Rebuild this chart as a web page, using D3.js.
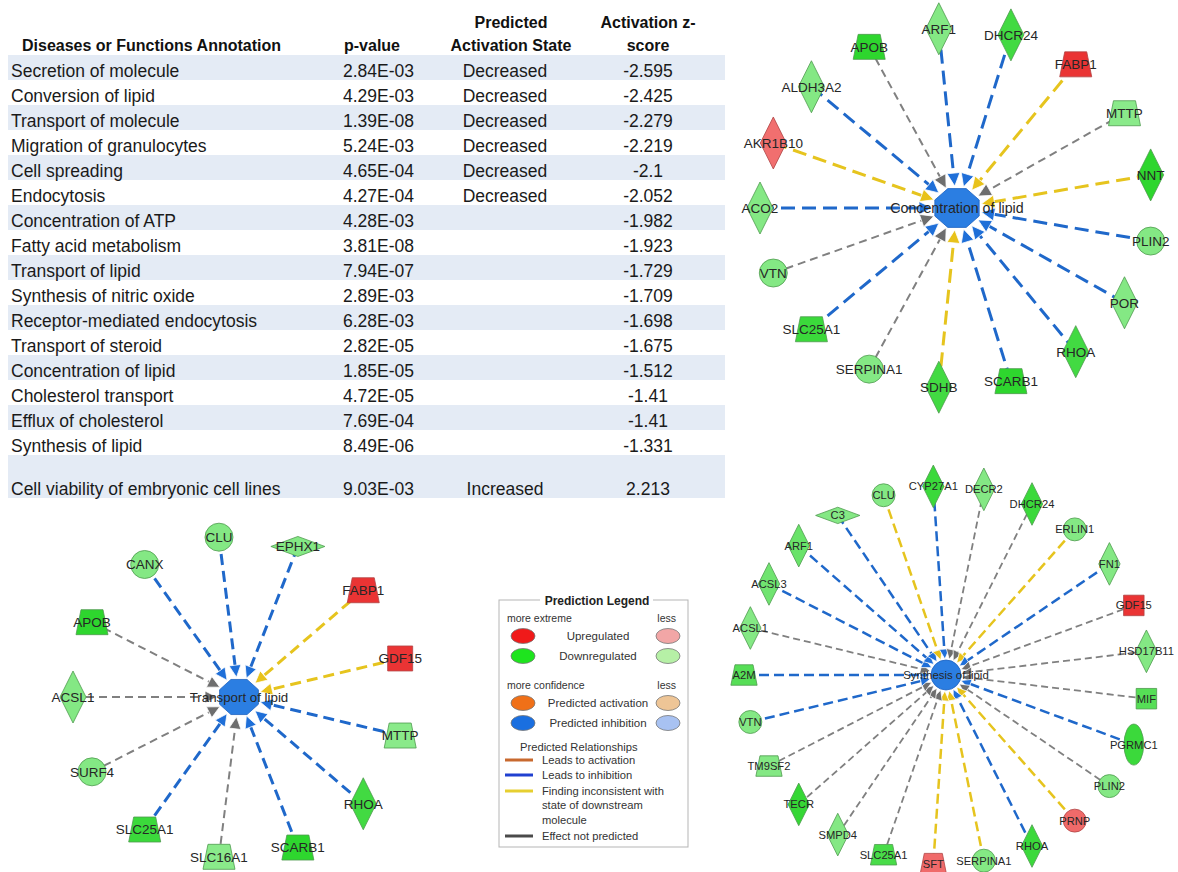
<!DOCTYPE html>
<html>
<head>
<meta charset="utf-8">
<script src="https://cdn.jsdelivr.net/npm/d3@7"></script>
<style>
  html, body { margin: 0; padding: 0; background: #fff; }
  svg { display: block; }
</style>
</head>
<body>
<svg id="fig" width="1178" height="872"></svg>
<script>
// ---------- Disease / function annotation table ----------
const annotations = [
  "Secretion of molecule", "Conversion of lipid", "Transport of molecule",
  "Migration of granulocytes", "Cell spreading", "Endocytosis",
  "Concentration of ATP", "Fatty acid metabolism", "Transport of lipid",
  "Synthesis of nitric oxide", "Receptor-mediated endocytosis", "Transport of steroid",
  "Concentration of lipid", "Cholesterol transport", "Efflux of cholesterol",
  "Synthesis of lipid", "Cell viability of embryonic cell lines"
];
const pValues = [
  "2.84E-03", "4.29E-03", "1.39E-08", "5.24E-03", "4.65E-04", "4.27E-04",
  "4.28E-03", "3.81E-08", "7.94E-07", "2.89E-03", "6.28E-03", "2.82E-05",
  "1.85E-05", "4.72E-05", "7.69E-04", "8.49E-06", "9.03E-03"
];
const activationStates = [
  "Decreased", "Decreased", "Decreased", "Decreased", "Decreased", "Decreased",
  "", "", "", "", "", "", "", "", "", "", "Increased"
];
const zScores = [
  -2.595, -2.425, -2.279, -2.219, -2.1, -2.052, -1.982, -1.923, -1.729,
  -1.709, -1.698, -1.675, -1.512, -1.41, -1.41, -1.331, 2.213
];
const columnHeaders = [
  ["Diseases or Functions Annotation"],
  ["p-value"],
  ["Predicted", "Activation State"],
  ["Activation z-", "score"]
];

// ---------- Networks: genes listed in layout order (clockwise from the left) ----------
// type = IPA molecule shape, level = expression change (-1 strong down .. +1 strong up),
// rel = predicted relationship to the function node
const concLipidNodes = [
  { gene: "ACO2",     type: "enzyme",      level: -0.35, rel: "inhibition" },
  { gene: "AKR1B10",  type: "enzyme",      level:  0.45, rel: "inconsistent" },
  { gene: "ALDH3A2",  type: "enzyme",      level: -0.35, rel: "inhibition" },
  { gene: "APOB",     type: "transporter", level: -1.0,  rel: "none" },
  { gene: "ARF1",     type: "enzyme",      level: -0.35, rel: "inhibition" },
  { gene: "DHCR24",   type: "enzyme",      level: -0.85, rel: "inhibition" },
  { gene: "FABP1",    type: "transporter", level:  1.0,  rel: "inconsistent" },
  { gene: "MTTP",     type: "transporter", level: -0.3,  rel: "none" },
  { gene: "NNT",      type: "enzyme",      level: -1.0,  rel: "inconsistent" },
  { gene: "PLIN2",    type: "other",       level: -0.35, rel: "inhibition" },
  { gene: "POR",      type: "enzyme",      level: -0.35, rel: "inhibition" },
  { gene: "RHOA",     type: "enzyme",      level: -0.85, rel: "inhibition" },
  { gene: "SCARB1",   type: "transporter", level: -1.0,  rel: "inhibition" },
  { gene: "SDHB",     type: "enzyme",      level: -0.85, rel: "inconsistent" },
  { gene: "SERPINA1", type: "other",       level: -0.35, rel: "none" },
  { gene: "SLC25A1",  type: "transporter", level: -0.9,  rel: "inhibition" },
  { gene: "VTN",      type: "other",       level: -0.35, rel: "none" }
];
const transportLipidNodes = [
  { gene: "ACSL1",   type: "enzyme",      level: -0.35, rel: "none" },
  { gene: "APOB",    type: "transporter", level: -1.0,  rel: "none" },
  { gene: "CANX",    type: "other",       level: -0.35, rel: "inhibition" },
  { gene: "CLU",     type: "other",       level: -0.35, rel: "inhibition" },
  { gene: "EPHX1",   type: "peptidase",   level: -0.35, rel: "inhibition" },
  { gene: "FABP1",   type: "transporter", level:  1.0,  rel: "inconsistent" },
  { gene: "GDF15",   type: "growth",      level:  1.0,  rel: "inconsistent" },
  { gene: "MTTP",    type: "transporter", level: -0.3,  rel: "inhibition" },
  { gene: "RHOA",    type: "enzyme",      level: -0.85, rel: "inhibition" },
  { gene: "SCARB1",  type: "transporter", level: -1.0,  rel: "inhibition" },
  { gene: "SLC16A1", type: "transporter", level: -0.3,  rel: "none" },
  { gene: "SLC25A1", type: "transporter", level: -0.9,  rel: "inhibition" },
  { gene: "SURF4",   type: "other",       level: -0.35, rel: "none" }
];
const synthLipidNodes = [
  { gene: "A2M",      type: "transporter", level: -0.7,  rel: "inhibition" },
  { gene: "ACSL1",    type: "enzyme",      level: -0.35, rel: "none" },
  { gene: "ACSL3",    type: "enzyme",      level: -0.5,  rel: "inhibition" },
  { gene: "ARF1",     type: "enzyme",      level: -0.55, rel: "inhibition" },
  { gene: "C3",       type: "peptidase",   level: -0.35, rel: "inhibition" },
  { gene: "CLU",      type: "other",       level: -0.35, rel: "inconsistent" },
  { gene: "CYP27A1",  type: "enzyme",      level: -0.9,  rel: "inhibition" },
  { gene: "DECR2",    type: "enzyme",      level: -0.35, rel: "none" },
  { gene: "DHCR24",   type: "enzyme",      level: -0.9,  rel: "none" },
  { gene: "ERLIN1",   type: "other",       level: -0.35, rel: "inconsistent" },
  { gene: "FN1",      type: "enzyme",      level: -0.35, rel: "inhibition" },
  { gene: "GDF15",    type: "growth",      level:  1.0,  rel: "none" },
  { gene: "HSD17B11", type: "enzyme",      level: -0.35, rel: "none" },
  { gene: "MIF",      type: "cytokine",    level: -0.7,  rel: "none" },
  { gene: "PGRMC1",   type: "receptor",    level: -0.9,  rel: "inhibition" },
  { gene: "PLIN2",    type: "other",       level: -0.35, rel: "none" },
  { gene: "PRNP",     type: "other",       level:  0.5,  rel: "inconsistent" },
  { gene: "RHOA",     type: "enzyme",      level: -0.9,  rel: "inhibition" },
  { gene: "SERPINA1", type: "other",       level: -0.35, rel: "inconsistent" },
  { gene: "SFT",      type: "transporter", level:  0.5,  rel: "inconsistent" },
  { gene: "SLC25A1",  type: "transporter", level: -0.8,  rel: "none" },
  { gene: "SMPD4",    type: "enzyme",      level: -0.35, rel: "none" },
  { gene: "TECR",     type: "enzyme",      level: -0.95, rel: "none" },
  { gene: "TM9SF2",   type: "transporter", level: -0.35, rel: "none" },
  { gene: "VTN",      type: "other",       level: -0.35, rel: "inhibition" }
];

// ---------- Prediction legend ----------
const legendNodeRows = [
  { label: "Upregulated",          strong: "#f01a1a", weak: "#f2a6a6" },
  { label: "Downregulated",        strong: "#1ee41e", weak: "#b6f0a6" },
  { label: "Predicted activation", strong: "#f07018", weak: "#eec596" },
  { label: "Predicted inhibition", strong: "#1a6fe0", weak: "#a8c2f2" }
];
const legendLineRows = [
  { label: ["Leads to activation"], color: "#c8692e" },
  { label: ["Leads to inhibition"], color: "#2040d0" },
  { label: ["Finding inconsistent with", "state of downstream", "molecule"], color: "#e6cf30" },
  { label: ["Effect not predicted"], color: "#4a4a4a" }
];

// ============================================================
const svg = d3.select("#fig");
const FONT = "'Liberation Sans', Arial, Helvetica, sans-serif";

// ---------- table ----------
(function drawTable() {
  const g = svg.append("g").attr("font-family", FONT);
  const n = annotations.length;
  // last row holds a wrapped (two-line) cell, so it is taller
  const rowH = annotations.map((d, i) => (i === n - 1 ? 43 : 25));
  const tops = [0, ...d3.cumsum(rowH)].slice(0, n).map(v => 55 + v);
  const bandX = d3.scaleLinear().domain([0, 1]).range([8, 725]);

  // striped row backgrounds
  g.selectAll("rect.band").data(annotations.map((d, i) => i).filter(i => i % 2 === 0))
    .join("rect").attr("class", "band")
    .attr("x", bandX(0)).attr("width", bandX(1) - bandX(0))
    .attr("y", i => tops[i]).attr("height", i => rowH[i])
    .attr("fill", "#e4ebf5");

  const base = i => tops[i] + rowH[i] - 3.3;
  const txt = (arr, x, anchor) => g.append("g").selectAll("text").data(arr).join("text")
    .attr("x", x).attr("y", (d, i) => base(i))
    .attr("text-anchor", anchor)
    .attr("font-size", 17.5).attr("fill", "#1a1a1a")
    .text(d => d);
  txt(annotations, 11, "start");
  txt(pValues, 343, "start");
  txt(activationStates, 505, "middle");
  txt(zScores.map(String), 648, "middle");

  const hdrX = [22, 372, 511, 648];
  const hdrAnchor = ["start", "middle", "middle", "middle"];
  columnHeaders.forEach((lines, c) => {
    lines.forEach((line, k) => {
      g.append("text")
        .attr("x", hdrX[c]).attr("y", 51 - (lines.length - 1 - k) * 23)
        .attr("text-anchor", hdrAnchor[c])
        .attr("font-size", 16).attr("font-weight", "bold").attr("fill", "#111")
        .text(line);
    });
  });
})();

// ---------- networks ----------
const relColor = { inhibition: "#1f68ca", inconsistent: "#e6c41e", none: "#808080" };
const arrowColor = { inhibition: "#1f6fd8", inconsistent: "#e8c21a", none: "#6e6e6e" };
const downColor = d3.interpolateRgb("#b2f2b2", "#2ed62e");
const upColor = d3.interpolateRgb("#f6a0a0", "#ea3434");
const nodeFill = lv => (lv < 0 ? downColor(-lv) : upColor(lv));
const nodeStroke = lv => (lv < 0 ? "#4f9a4f" : "#b04444");

// shape path generators; k = network size factor
function shapePath(type, k) {
  const p = d3.path();
  if (type === "enzyme") {            // vertical diamond
    const w = 13 * k, h = 26 * k;
    p.moveTo(0, -h); p.lineTo(w, 0); p.lineTo(0, h); p.lineTo(-w, 0); p.closePath();
  } else if (type === "peptidase") {  // horizontal diamond
    const w = 27 * k, h = 10 * k;
    p.moveTo(-w, 0); p.lineTo(0, -h); p.lineTo(w, 0); p.lineTo(0, h); p.closePath();
  } else if (type === "transporter") { // trapezoid, wide base
    const b = 16 * k, t = 11 * k, h = 12.5 * k;
    p.moveTo(-t, -h); p.lineTo(t, -h); p.lineTo(b, h); p.lineTo(-b, h); p.closePath();
  } else if (type === "growth" || type === "cytokine") { // square
    const s = 12.5 * k;
    p.rect(-s, -s, 2 * s, 2 * s);
  } else if (type === "receptor") {   // tall ellipse
    const rx = 12 * k, ry = 25 * k;
    return `M${-rx},0 A${rx},${ry} 0 1,0 ${rx},0 A${rx},${ry} 0 1,0 ${-rx},0 Z`;
  } else {                            // circle
    const r = 14 * k;
    return `M${-r},0 A${r},${r} 0 1,0 ${r},0 A${r},${r} 0 1,0 ${-r},0 Z`;
  }
  return p.toString();
}

function octagon(rx, ry) {
  const pts = d3.range(8).map(i => {
    const a = (i * 45 + 22.5) * Math.PI / 180;
    return [rx * Math.cos(a), ry * Math.sin(a)];
  });
  return d3.line()(pts) + "Z";
}

function drawNetwork(cfg) {
  const g = svg.append("g").attr("font-family", FONT);
  const n = cfg.nodes.length;
  // clockwise angle from 12 o'clock, first gene placed at 9 o'clock
  const angle = d3.scaleLinear().domain([0, n]).range([270, 630]);
  const nodes = cfg.nodes.map((d, i) => {
    const a = angle(i) * Math.PI / 180;
    return Object.assign({}, d, { x: cfg.cx + cfg.rx * Math.sin(a), y: cfg.cy - cfg.ry * Math.cos(a) });
  });

  // edge geometry: arrow tip on an ellipse around the hub
  const geo = nodes.map(d => {
    const dx = d.x - cfg.cx, dy = d.y - cfg.cy, L = Math.hypot(dx, dy);
    const ux = dx / L, uy = dy / L;
    const [tx, ty] = cfg.tip;
    const r = (tx * ty) / Math.sqrt((ty * ux) ** 2 + (tx * uy) ** 2);
    const tipX = cfg.cx + ux * r, tipY = cfg.cy + uy * r;
    const [len, hw] = cfg.arrow;
    const bx = tipX + ux * len, by = tipY + uy * len;
    return { d, ux, uy, tipX, tipY, bx, by, hw };
  });

  // dashed edges
  g.append("g").selectAll("line").data(geo).join("line")
    .attr("x1", e => e.d.x).attr("y1", e => e.d.y)
    .attr("x2", e => e.bx - e.ux * 2).attr("y2", e => e.by - e.uy * 2)
    .attr("stroke", e => relColor[e.d.rel])
    .attr("stroke-width", e => (e.d.rel === "none" ? cfg.thin : cfg.wide))
    .attr("stroke-dasharray", e => (e.d.rel === "none" ? cfg.dashThin : cfg.dashWide));

  // arrowheads
  g.append("g").selectAll("path").data(geo).join("path")
    .attr("d", e => {
      const px = -e.uy, py = e.ux;
      return d3.line()([
        [e.tipX, e.tipY],
        [e.bx + px * e.hw, e.by + py * e.hw],
        [e.bx - px * e.hw, e.by - py * e.hw]
      ]) + "Z";
    })
    .attr("fill", e => arrowColor[e.d.rel])
    .attr("stroke", "#fff").attr("stroke-width", 0.8).attr("stroke-linejoin", "miter");

  // hub node
  const hub = g.append("path")
    .attr("transform", `translate(${cfg.cx},${cfg.cy})`)
    .attr("fill", "#2b7ee2").attr("stroke", "#1d62c0").attr("stroke-width", 0.8);
  if (cfg.hub === "octagon") hub.attr("d", octagon(cfg.hubR[0], cfg.hubR[1]));
  else hub.attr("d", shapePath("other", cfg.hubR[0] / 14));

  // gene nodes
  g.append("g").selectAll("path").data(nodes).join("path")
    .attr("transform", d => `translate(${d.x},${d.y})`)
    .attr("d", d => shapePath(d.type, cfg.k))
    .attr("fill", d => nodeFill(d.level))
    .attr("stroke", d => nodeStroke(d.level)).attr("stroke-width", 0.8);

  // gene labels
  g.append("g").selectAll("text").data(nodes).join("text")
    .attr("x", d => d.x).attr("y", d => d.y)
    .attr("dy", "0.36em").attr("text-anchor", "middle")
    .attr("font-size", cfg.font).attr("fill", "#262626")
    .text(d => d.gene);

  // hub label
  g.append("text")
    .attr("x", cfg.cx).attr("y", cfg.cy)
    .attr("dy", "0.36em").attr("text-anchor", "middle")
    .attr("font-size", cfg.hubFont).attr("fill", "#262626")
    .text(cfg.title);
}

drawNetwork({
  nodes: concLipidNodes, title: "Concentration of lipid",
  cx: 957, cy: 208, rx: 197, ry: 180, k: 1, font: 13.5, hubFont: 14.2,
  hub: "octagon", hubR: [24, 21], tip: [25, 22], arrow: [13, 6.5],
  wide: 3, thin: 2, dashWide: "14,7", dashThin: "8,5"
});
drawNetwork({
  nodes: transportLipidNodes, title: "Transport of lipid",
  cx: 239, cy: 697, rx: 166, ry: 161, k: 1, font: 13.5, hubFont: 13.3,
  hub: "octagon", hubR: [21, 19], tip: [22, 20], arrow: [12, 6],
  wide: 3, thin: 2, dashWide: "11,6", dashThin: "8,5"
});
drawNetwork({
  nodes: synthLipidNodes, title: "Synthesis of lipid",
  cx: 946, cy: 675, rx: 202, ry: 189, k: 0.82, font: 11.2, hubFont: 11.4,
  hub: "circle", hubR: [15], tip: [16, 16], arrow: [10, 5],
  wide: 2.5, thin: 1.8, dashWide: "10,5", dashThin: "7,4"
});

// ---------- legend ----------
(function drawLegend() {
  const g = svg.append("g").attr("font-family", FONT).attr("fill", "#333");
  const box = { x0: 499, x1: 688, y0: 600, y1: 847 };
  g.append("rect")
    .attr("x", box.x0).attr("y", box.y0)
    .attr("width", box.x1 - box.x0).attr("height", box.y1 - box.y0)
    .attr("fill", "#fff").attr("stroke", "#b5b5b5").attr("stroke-width", 1);
  g.append("rect").attr("x", 540).attr("y", 592).attr("width", 113).attr("height", 16).attr("fill", "#fff");
  g.append("text").attr("x", 597).attr("y", 604.5).attr("text-anchor", "middle")
    .attr("font-size", 12).attr("font-weight", "bold").attr("fill", "#222")
    .text("Prediction Legend");

  const small = (t, x, y, anchor) => g.append("text").attr("x", x).attr("y", y)
    .attr("text-anchor", anchor || "start").attr("font-size", 10.5).text(t);
  small("more extreme", 507, 622);
  small("less", 676, 622, "end");
  small("more confidence", 507, 689);
  small("less", 676, 689, "end");

  const rowY = d3.scaleOrdinal().domain(legendNodeRows.map(d => d.label)).range([636, 656, 703, 723]);
  const rows = g.selectAll("g.lrow").data(legendNodeRows).join("g").attr("class", "lrow")
    .attr("transform", d => `translate(0,${rowY(d.label)})`);
  rows.append("ellipse").attr("cx", 523).attr("cy", 0).attr("rx", 12).attr("ry", 7.5)
    .attr("fill", d => d.strong).attr("stroke", "#777").attr("stroke-width", 0.8);
  rows.append("ellipse").attr("cx", 668).attr("cy", 0).attr("rx", 12).attr("ry", 7.5)
    .attr("fill", d => d.weak).attr("stroke", "#777").attr("stroke-width", 0.8);
  rows.append("text").attr("x", 598).attr("y", 0).attr("dy", "0.35em")
    .attr("text-anchor", "middle").attr("font-size", 11.5).text(d => d.label);

  g.append("text").attr("x", 520).attr("y", 751).attr("font-size", 11.2).text("Predicted Relationships");

  const lineY = d3.scaleOrdinal().domain(legendLineRows.map(d => d.label[0])).range([760, 775, 791, 836]);
  const lrows = g.selectAll("g.lline").data(legendLineRows).join("g").attr("class", "lline")
    .attr("transform", d => `translate(0,${lineY(d.label[0])})`);
  lrows.append("line").attr("x1", 505).attr("x2", 533).attr("y1", 0).attr("y2", 0)
    .attr("stroke", d => d.color).attr("stroke-width", 3);
  lrows.each(function (d) {
    d3.select(this).selectAll("text").data(d.label).join("text")
      .attr("x", 542).attr("y", (t, i) => i * 14.5).attr("dy", "0.35em")
      .attr("font-size", 11.2).text(t => t);
  });
})();
</script>
</body>
</html>
